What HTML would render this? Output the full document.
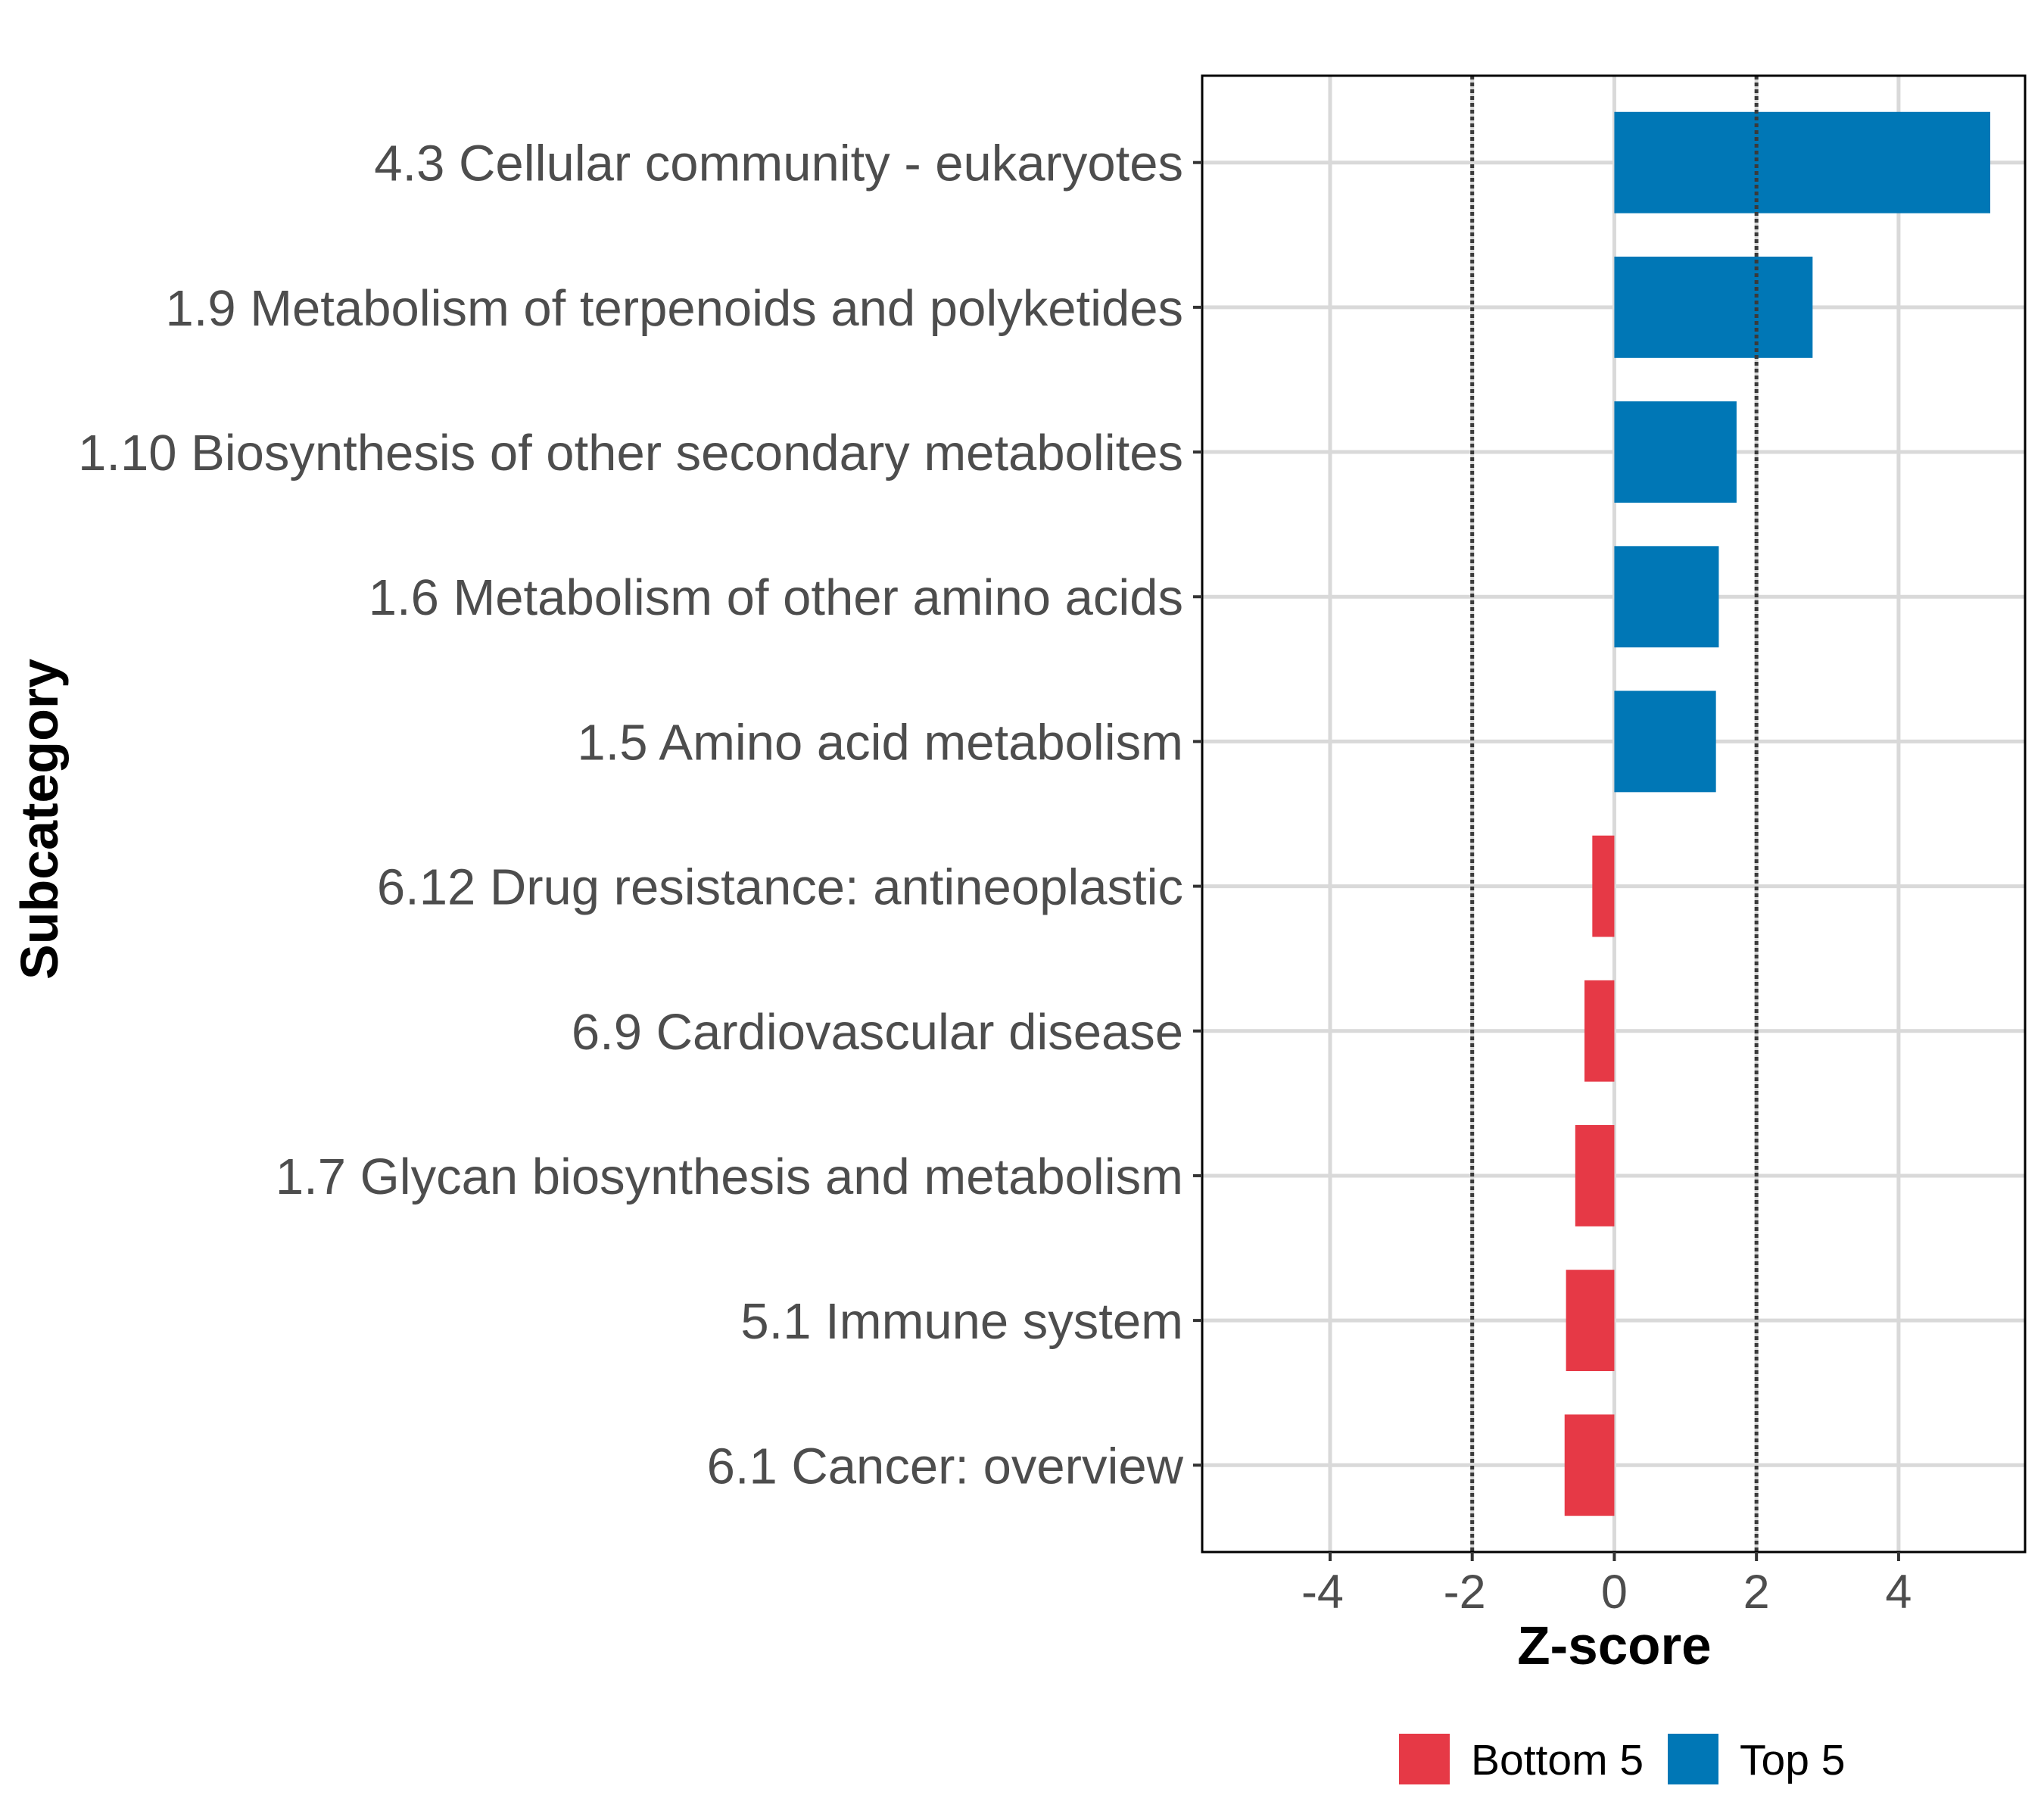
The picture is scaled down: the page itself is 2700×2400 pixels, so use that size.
<!DOCTYPE html>
<html><head><meta charset="utf-8"><style>
html,body{margin:0;padding:0;background:#fff;}
svg{display:block;font-family:"Liberation Sans",Arial,sans-serif;}
</style></head><body>
<svg id="chart" width="2700" height="2400" viewBox="0 0 2700 2400" xmlns="http://www.w3.org/2000/svg"></svg>
<script>
const categories = ["4.3 Cellular community - eukaryotes","1.9 Metabolism of terpenoids and polyketides","1.10 Biosynthesis of other secondary metabolites","1.6 Metabolism of other amino acids","1.5 Amino acid metabolism","6.12 Drug resistance: antineoplastic","6.9 Cardiovascular disease","1.7 Glycan biosynthesis and metabolism","5.1 Immune system","6.1 Cancer: overview"];
const zscores = [5.29, 2.79, 1.72, 1.47, 1.43, -0.31, -0.42, -0.55, -0.68, -0.70];
const groups = ["Top 5","Top 5","Top 5","Top 5","Top 5","Bottom 5","Bottom 5","Bottom 5","Bottom 5","Bottom 5"];
const xTicks = [-4, -2, 0, 2, 4];
const thresholds = [-2, 2];
const legendLabels = ["Bottom 5", "Top 5"];

const NS = "http://www.w3.org/2000/svg";
const svg = document.getElementById("chart");
const P = {l:1588, r:2675, t:100, b:2050};
const xMin = -5.80, xMax = 5.78;
const X = v => P.l + (v - xMin) / (xMax - xMin) * (P.r - P.l);
const step = (P.b - P.t) / (categories.length + 0.2);
const Y = i => P.t + step * (0.6 + i);
const colors = {"Top 5":"#0077B6","Bottom 5":"#E63946"};

function mk(tag, attrs, parent) {
  const e = document.createElementNS(NS, tag);
  for (const k in attrs) e.setAttribute(k, attrs[k]);
  (parent || svg).appendChild(e);
  return e;
}

xTicks.forEach(t => {
  const g = mk("line", {x1:X(t), x2:X(t), y1:P.t, y2:P.b, stroke:"#d9d9d9", "stroke-width":5});
  
  
});
categories.forEach((c, i) => {
  const g = mk("line", {x1:P.l, x2:P.r, y1:Y(i), y2:Y(i), stroke:"#d9d9d9", "stroke-width":5});
  
  
});

categories.forEach((c, i) => {
  const v = zscores[i];
  const h = step * 0.7;
  const r = mk("rect", {x:Math.min(X(0), X(v)), y:Y(i) - h/2, width:Math.abs(X(v) - X(0)), height:h, fill:colors[groups[i]]});
  
  
});

thresholds.forEach(t => {
  const l = mk("line", {x1:X(t), x2:X(t), y1:P.t, y2:P.b, stroke:"#3a3a3a", "stroke-width":5, "stroke-dasharray":"5 4"});
  
  
});

const border = mk("rect", {x:P.l, y:P.t, width:P.r-P.l, height:P.b-P.t, fill:"none", stroke:"#000", "stroke-width":3});



categories.forEach((c, i) => {
  const tk = mk("line", {x1:P.l-12, x2:P.l, y1:Y(i), y2:Y(i), stroke:"#333", "stroke-width":4});
  
  
  const t = mk("text", {x:1563, y:Y(i)+24, "text-anchor":"end", "font-size":67, fill:"#4d4d4d"});
  t.textContent = c;
  
  
});

xTicks.forEach(v => {
  const tk = mk("line", {x1:X(v), x2:X(v), y1:P.b, y2:P.b+12, stroke:"#333", "stroke-width":4});
  
  
  const t = mk("text", {x:X(v) - (v<0?10:0), y:2124, "text-anchor":"middle", "font-size":63, fill:"#4d4d4d"});
  t.textContent = v;
  
  
});

const xt = mk("text", {x:X(0), y:2198, "text-anchor":"middle", "font-size":71, "font-weight":"bold", fill:"#000"});
xt.textContent = "Z-score";


const yt = mk("text", {x:0, y:0, "text-anchor":"middle", "font-size":70, "font-weight":"bold", fill:"#000", transform:"translate(76,1082) rotate(-90)"});
yt.textContent = "Subcategory";



const legX = [1848, 2203];
legendLabels.forEach((lab, i) => {
  const r = mk("rect", {x:legX[i], y:2290, width:67, height:67, fill:colors[lab]});
  
  
  const t = mk("text", {x:legX[i]+95, y:2344, "font-size":57, fill:"#000"});
  t.textContent = lab;
  
  
});
</script>
</body></html>
